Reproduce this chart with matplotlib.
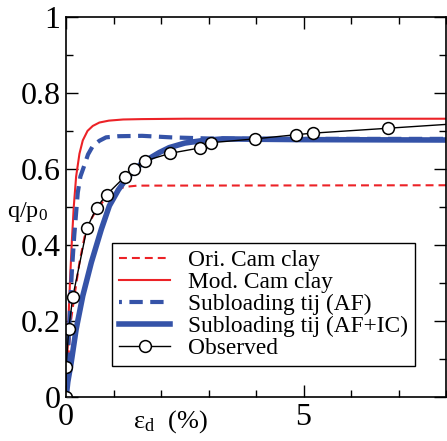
import numpy as np
import matplotlib
matplotlib.use("Agg")
import matplotlib.pyplot as plt
from matplotlib.ticker import MultipleLocator

plt.rcParams['font.family'] = ['Liberation Serif', 'DejaVu Serif']
plt.rcParams['mathtext.fontset'] = 'custom'
plt.rcParams['mathtext.rm'] = 'Liberation Serif'
plt.rcParams['mathtext.it'] = 'Liberation Serif:italic'

# Ori. Cam clay
ori_x = [0, 0.03, 0.06, 0.1, 0.175, 0.28, 0.385, 0.49, 0.63, 0.78, 0.91, 1.1, 1.26, 1.5, 8]
ori_q = [0, 0.07, 0.13, 0.2, 0.266, 0.354, 0.42, 0.46, 0.49, 0.515, 0.535, 0.548, 0.553, 0.556, 0.557]

# Mod. Cam clay
mod_x = [0, 0.03, 0.06, 0.09, 0.12, 0.16, 0.21, 0.28, 0.35, 0.45, 0.56, 0.7, 0.9, 1.2, 1.6, 2.5, 8]
mod_q = [0, 0.13, 0.24, 0.33, 0.41, 0.50, 0.58, 0.64, 0.675, 0.70, 0.713, 0.722, 0.727, 0.73, 0.731, 0.732, 0.732]

# Subloading tij (AF)
af_x = [0, 0.04, 0.08, 0.12, 0.17, 0.245, 0.3, 0.385, 0.46, 0.56, 0.7, 0.84, 1.1, 1.6, 2.2, 3.0, 4, 8]
af_q = [0, 0.12, 0.23, 0.33, 0.424, 0.538, 0.58, 0.61, 0.638, 0.66, 0.674, 0.683, 0.686, 0.687, 0.683, 0.68, 0.679, 0.679]

# Subloading tij (AF+IC)
ic_x = [0, 0.035, 0.105, 0.21, 0.35, 0.53, 0.74, 0.91, 1.1, 1.26, 1.45, 1.61, 1.96, 2.17, 2.5, 2.9, 3.3, 4, 5, 8]
ic_q = [0, 0.04, 0.09, 0.178, 0.266, 0.354, 0.441, 0.503, 0.545, 0.573, 0.598, 0.617, 0.643, 0.656, 0.668, 0.675, 0.679, 0.678, 0.677, 0.676]

# Observed
obs_x = [0, 0, 0.055, 0.14, 0.44, 0.64, 0.85, 1.24, 1.42, 1.66, 2.19, 2.81, 3.05, 3.98, 4.84, 5.19, 6.78, 8.6]
obs_q = [0, 0.08, 0.18, 0.264, 0.445, 0.498, 0.532, 0.58, 0.601, 0.621, 0.641, 0.655, 0.669, 0.679, 0.69, 0.694, 0.707, 0.722]

yticks = [0, 0.2, 0.4, 0.6, 0.8, 1]
ytick_labels = ['0', '0.2', '0.4', '0.6', '0.8', '1']
xticks = [0, 5]
xtick_labels = ['0', '5']

red = '#ec2227'
blue = '#3553a8'

fig = plt.figure(figsize=(4.47, 4.41), dpi=100)
ax = fig.add_axes([0.148, 0.0998, 0.85, 0.862])

ax.plot(ori_x, ori_q, color=red, lw=1.5, ls=(0, (3.8, 2.4)), label='Ori. Cam clay')
ax.plot(mod_x, mod_q, color=red, lw=1.5, label='Mod. Cam clay')
ax.plot(af_x, af_q, color=blue, lw=3, ls=(2.5, (3.2, 1.8)), label='Subloading tij (AF)')
ax.plot(ic_x, ic_q, color=blue, lw=4, label='Subloading tij (AF+IC)')
ax.plot(obs_x, obs_q, color='black', lw=1, marker='o', ms=8.5, mfc='white',
        mec='black', mew=1.1, label='Observed', clip_on=True)

ax.set_xlim(0, 8)
ax.set_ylim(0, 1)
ax.set_xticks(xticks)
ax.set_xticklabels(xtick_labels)
ax.set_yticks(yticks)
ax.set_yticklabels(ytick_labels)
ax.xaxis.set_minor_locator(MultipleLocator(1))
ax.yaxis.set_minor_locator(MultipleLocator(0.1))
ax.tick_params(which='both', direction='in', top=True, right=True, width=1, labelsize=23, pad=4)
ax.tick_params(which='major', length=8.5)
ax.tick_params(which='minor', length=4.7)
for s in ax.spines.values():
    s.set_linewidth(1.2)

ax.text(-0.102, 0.487, 'q/p$_\\mathrm{0}$', transform=ax.transAxes, ha='center', va='center', fontsize=17.5)
ax.text(0.274, -0.066, 'ε$_\\mathrm{d}$  (%)', transform=ax.transAxes, ha='center', va='center', fontsize=19)

leg = ax.legend(loc='upper left', bbox_to_anchor=(0.121, 0.405), borderaxespad=0, fontsize=16.8,
                handlelength=2.2, labelspacing=0.03, handletextpad=0.75, borderpad=0.3,
                fancybox=False, edgecolor='black', framealpha=1)
leg.get_frame().set_linewidth(1)

fig.savefig('out.png', dpi=100)
